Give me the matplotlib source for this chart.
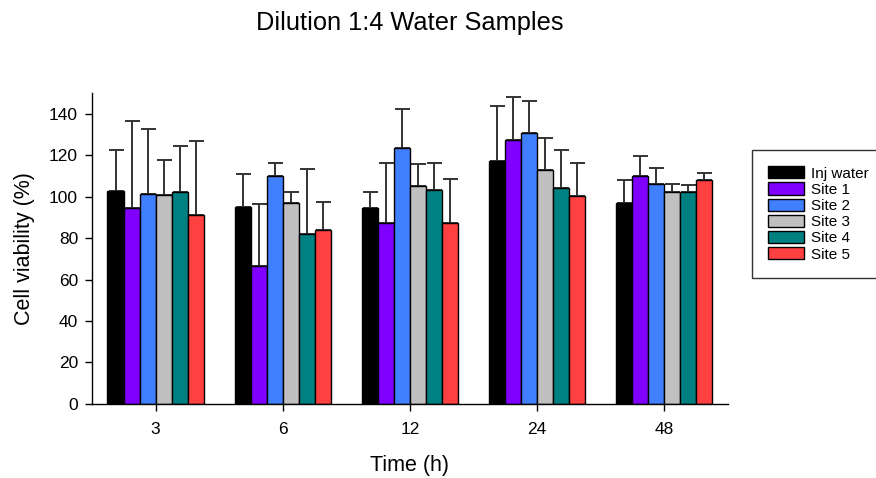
import matplotlib
matplotlib.use("Agg")
import matplotlib.pyplot as plt
import numpy as np

plt.rcParams['font.family'] = ['Liberation Sans', 'DejaVu Sans']

times = ["3", "6", "12", "24", "48"]
series = ["Inj water", "Site 1", "Site 2", "Site 3", "Site 4", "Site 5"]
colors = ["#000000", "#7F00FF", "#4080FF", "#C0C0C0", "#008080", "#FF4040"]

means = {
    "Inj water": [102.7, 95.1, 94.5, 117.2, 97.2],
    "Site 1":    [94.8, 66.5, 87.1, 127.5, 109.8],
    "Site 2":    [101.4, 110.0, 123.5, 131.0, 106.1],
    "Site 3":    [100.9, 97.1, 105.1, 112.7, 102.4],
    "Site 4":    [102.4, 82.1, 103.5, 104.0, 102.2],
    "Site 5":    [91.1, 84.2, 87.4, 100.3, 107.9],
}
err_tops = {
    "Inj water": [122.5, 111.2, 102.2, 143.6, 108.2],
    "Site 1":    [136.5, 96.6, 116.5, 148.1, 119.5],
    "Site 2":    [132.8, 116.1, 142.3, 146.3, 114.0],
    "Site 3":    [117.8, 102.2, 115.9, 128.6, 106.1],
    "Site 4":    [124.4, 113.5, 116.2, 122.4, 105.6],
    "Site 5":    [126.7, 97.5, 108.4, 116.4, 111.5],
}

fig = plt.figure(figsize=(8.76, 4.78), dpi=100)
ax = fig.add_axes([0.105, 0.155, 0.726, 0.65])

x = np.arange(len(times))
w = 0.126
n = len(series)
for i, (s, c) in enumerate(zip(series, colors)):
    pos = x + (i - (n - 1) / 2) * w
    m = np.array(means[s])
    e = np.array(err_tops[s]) - m
    ax.bar(pos, m, width=w, color=c, edgecolor="black", linewidth=1.0, label=s, zorder=2)
    ax.errorbar(pos, m, yerr=[np.zeros_like(e), e], fmt="none", ecolor="#333333",
                elinewidth=1.4, capsize=5.4, capthick=1.4, zorder=1)

ax.set_xlim(-0.5, 4.5)
ax.set_ylim(0, 150)
ax.set_yticks(np.arange(0, 141, 20))
ax.set_xticks(x)
ax.set_xticklabels(times)
ax.spines['top'].set_visible(False)
ax.spines['right'].set_visible(False)
ax.spines['left'].set_linewidth(1.0)
ax.spines['bottom'].set_linewidth(1.0)
ax.tick_params(axis='both', direction='out', length=5, width=1.0, labelsize=12.5, pad=5)
ax.tick_params(axis='x', pad=8)
ax.set_xlabel("Time (h)", fontsize=15.5, labelpad=13)
ax.set_ylabel("Cell viability (%)", fontsize=15.5, labelpad=10)
fig.text(0.468, 0.951, "Dilution 1:4 Water Samples", fontsize=18.3, ha="center", va="center")

leg = fig.legend(loc="upper left", bbox_to_anchor=(0.858, 0.686), fontsize=11,
                 frameon=True, fancybox=False, edgecolor="black",
                 handlelength=2.35, handleheight=0.85, labelspacing=0.12,
                 handletextpad=0.5, borderpad=1.05, borderaxespad=0)
leg.get_frame().set_linewidth(1.0)

fig.savefig("out.png", dpi=100)
